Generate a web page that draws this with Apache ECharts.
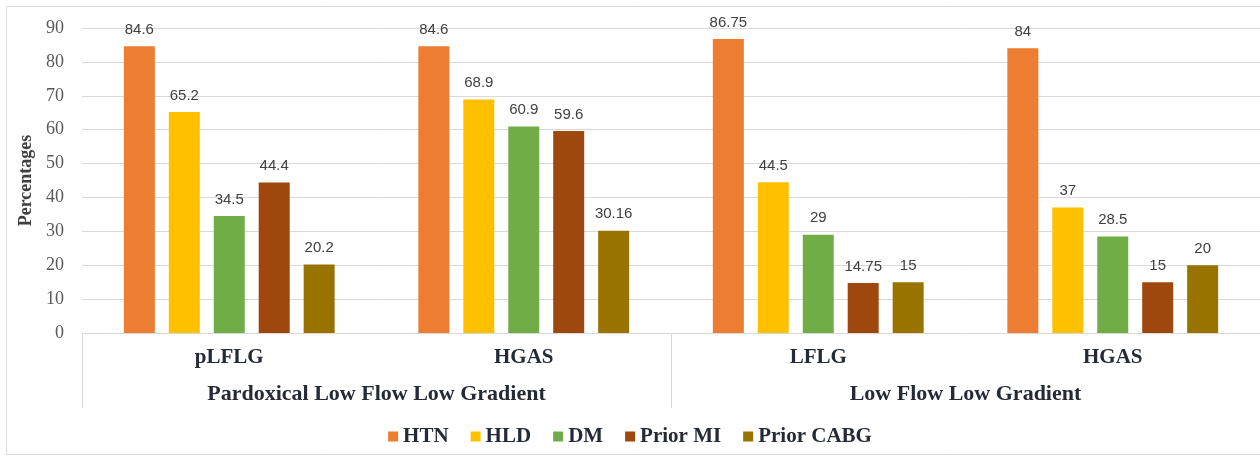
<!DOCTYPE html>
<html>
<head>
<meta charset="utf-8">
<script src="https://cdn.jsdelivr.net/npm/echarts@6/dist/echarts.min.js"></script>
<style>
  html, body { margin: 0; padding: 0; background: #ffffff; }
  #chart { width: 1260px; height: 460px; }
</style>
</head>
<body>
<div id="chart"></div>
<script>
// Subgroups along the bottom axis and the two cohorts they belong to
var categories = ['pLFLG', 'HGAS', 'LFLG', 'HGAS'];
var groups = ['Pardoxical Low Flow Low Gradient', 'Low Flow Low Gradient'];

// Percentage of patients with each comorbidity per subgroup
var htn       = [84.6, 84.6, 86.75, 84];
var hld       = [65.2, 68.9, 44.5, 37];
var dm        = [34.5, 60.9, 29, 28.5];
var priorMI   = [44.4, 59.6, 14.75, 15];
var priorCABG = [20.2, 30.16, 15, 20];

var seriesNames = ['HTN', 'HLD', 'DM', 'Prior MI', 'Prior CABG'];
var seriesValues = [htn, hld, dm, priorMI, priorCABG];
var seriesColors = ['#ED7D31', '#FFC000', '#70AD47', '#9E480E', '#997300'];

var yTicks = { min: 0, max: 90, interval: 10 };

var SERIF = '"Liberation Serif", "Times New Roman", serif';
var SANS = '"Liberation Sans", Arial, sans-serif';
var TEXT_DARK = '#252B36';
var GRID_GRAY = '#D9D9D9';

var chart = echarts.init(document.getElementById('chart'), null, { renderer: 'canvas' });

var series = seriesNames.map(function (name, i) {
  return {
    name: name,
    type: 'bar',
    xAxisIndex: 0,
    data: seriesValues[i],
    barWidth: 31,
    barGap: '45%',
    itemStyle: { color: seriesColors[i] },
    label: {
      show: true,
      position: 'top',
      distance: 9,
      color: '#404040',
      fontFamily: SANS,
      fontSize: 15
    }
  };
});

chart.setOption({
  backgroundColor: '#ffffff',
  animation: false,
  graphic: [{
    type: 'rect',
    shape: { x: 6.5, y: 6.5, width: 1270, height: 448 },
    style: { fill: 'none', stroke: GRID_GRAY, lineWidth: 1 },
    silent: true
  }],
  grid: { left: 82, right: -2, top: 28, bottom: 127, containLabel: false },
  legend: {
    data: seriesNames,
    left: 'center',
    top: 421,
    icon: 'rect',
    itemWidth: 10,
    itemHeight: 10,
    itemGap: 22,
    textStyle: { fontFamily: SERIF, fontWeight: 'bold', fontSize: 21, color: TEXT_DARK }
  },
  xAxis: [{
    type: 'category',
    data: categories,
    position: 'bottom',
    axisLine: { show: true, lineStyle: { color: GRID_GRAY, width: 1 } },
    axisTick: { show: false },
    axisLabel: {
      margin: 14,
      fontFamily: SERIF,
      fontWeight: 'bold',
      fontSize: 21,
      color: TEXT_DARK
    }
  }, {
    type: 'category',
    data: groups,
    position: 'bottom',
    offset: 75,
    axisLine: { show: false },
    axisTick: { show: true, inside: true, length: 75, lineStyle: { color: GRID_GRAY, width: 1 } },
    axisLabel: {
      inside: true,
      margin: 3,
      fontFamily: SERIF,
      fontWeight: 'bold',
      fontSize: 22,
      color: TEXT_DARK
    },
    splitLine: { show: false }
  }],
  yAxis: {
    type: 'value',
    min: yTicks.min,
    max: yTicks.max,
    interval: yTicks.interval,
    name: 'Percentages',
    nameLocation: 'middle',
    nameGap: 39,
    nameTextStyle: { fontFamily: SERIF, fontWeight: 'bold', fontSize: 18, color: '#404040' },
    axisLine: { show: false },
    axisTick: { show: false },
    axisLabel: { margin: 18, fontFamily: SERIF, fontSize: 18, color: '#595959' },
    splitLine: { lineStyle: { color: GRID_GRAY, width: 1 } }
  },
  series: series
});
</script>
</body>
</html>
